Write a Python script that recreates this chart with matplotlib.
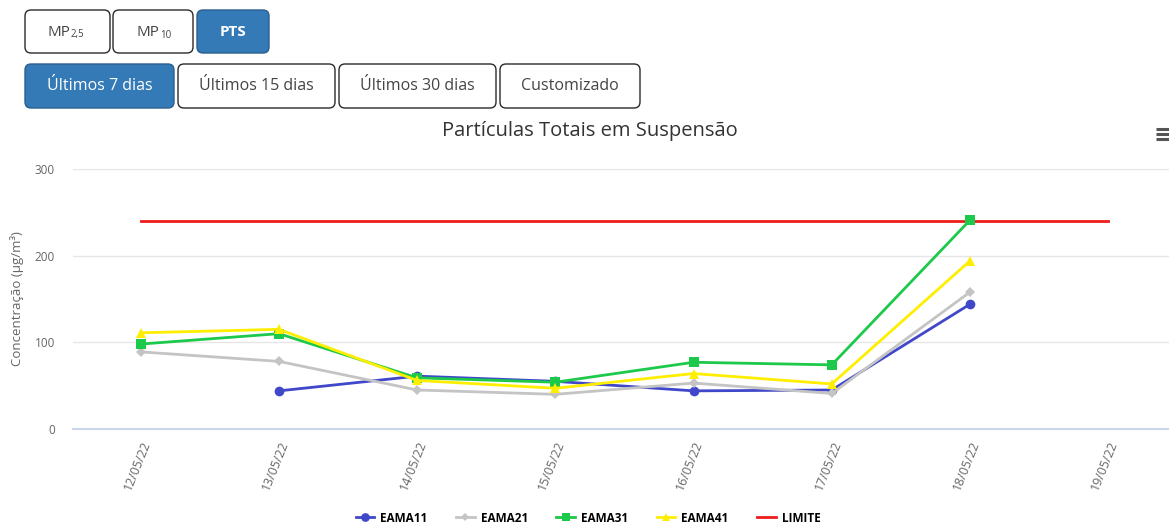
import numpy as np
import matplotlib.pyplot as plt
from matplotlib.patches import FancyBboxPatch
from matplotlib.lines import Line2D

# ---- dados ----
datas = ["12/05/22", "13/05/22", "14/05/22", "15/05/22",
         "16/05/22", "17/05/22", "18/05/22", "19/05/22"]
eama11 = [np.nan, 44, 61, 55, 44, 45, 144, np.nan]
eama21 = [89, 78, 45, 40, 53, 41, 158, np.nan]
eama31 = [98, 110, 59, 54, 77, 74, 241, np.nan]
eama41 = [111, 115, 56, 47, 64, 52, 194, np.nan]
limite = [240, 240, 240, 240, 240, 240, 240, 240]

series = [
    ("EAMA11", eama11, "#4047c9", "o", 7),
    ("EAMA21", eama21, "#c4c4c4", "D", 5),
    ("EAMA31", eama31, "#1dc94a", "s", 7),
    ("EAMA41", eama41, "#ffee00", "^", 7),
]

plt.rcParams["font.family"] = ["Open Sans", "DejaVu Sans"]

W, H = 1169, 527
fig = plt.figure(figsize=(W / 100, H / 100), dpi=100)

# camada de fundo em pixels (botões, ícone)
bg = fig.add_axes([0, 0, 1, 1])
bg.set_xlim(0, W)
bg.set_ylim(H, 0)
bg.axis("off")

AZUL = "#337ab7"


def botao(x0, x1, y0, y1, ativo):
    p = FancyBboxPatch((x0, y0), x1 - x0, y1 - y0,
                       boxstyle="round,pad=0,rounding_size=6",
                       facecolor=AZUL if ativo else "white",
                       edgecolor="#2a2a2a" if not ativo else "#2b5f8e",
                       linewidth=1.0)
    bg.add_patch(p)


botao(25, 110, 10, 53, False)
botao(113, 193, 10, 53, False)
botao(197, 269, 10, 53, True)
bg.text(70, 32, "MP", ha="right", va="center", fontsize=11, color="#444444")
bg.text(71, 35, "2,5", ha="left", va="center", fontsize=7, color="#444444")
bg.text(159, 32, "MP", ha="right", va="center", fontsize=11, color="#444444")
bg.text(160, 35, "10", ha="left", va="center", fontsize=7, color="#444444")
bg.text(233, 32, "PTS", ha="center", va="center", fontsize=11, color="white",
        fontweight="bold")

botoes2 = [(25, 174, "Últimos 7 dias", True), (178, 335, "Últimos 15 dias", False),
           (339, 496, "Últimos 30 dias", False), (500, 640, "Customizado", False)]
for x0, x1, txt, ativo in botoes2:
    botao(x0, x1, 64, 108, ativo)
    bg.text((x0 + x1) / 2, 86, txt, ha="center", va="center", fontsize=11.5,
            color="white" if ativo else "#444444")

# ícone de menu
for yy in (129, 134, 139):
    bg.plot([1156, 1169], [yy, yy], color="#555555", lw=2.2, solid_capstyle="butt")

bg.text(590, 131, "Partículas Totais em Suspensão", ha="center", va="center",
        fontsize=14.5, color="#333333")

# ---- gráfico ----
ax = fig.add_axes([73 / W, 98 / H, 1 - 73 / W, 260 / H])
x = np.arange(len(datas))

ax.plot(x, limite, color="#ee1c1c", lw=2, zorder=2)
for nome, vals, cor, mk, ms in series:
    ax.plot(x, vals, color=cor, lw=2, marker=mk, markersize=ms,
            markeredgewidth=0, zorder=3)

ax.set_xlim(-0.49, 7.44)
ax.set_ylim(0, 300)
ax.set_yticks([0, 100, 200, 300])
ax.set_xticks(x)
ax.set_xticklabels(datas, rotation=68, ha="right", va="top",
                   rotation_mode="anchor", fontsize=9, color="#666666")
ax.tick_params(axis="x", length=0, pad=7)
ax.tick_params(axis="y", length=0, pad=13, labelsize=8.5, labelcolor="#666666")
ax.grid(axis="y", color="#e6e6e6", lw=1)
for s in ("top", "right", "left"):
    ax.spines[s].set_visible(False)
ax.spines["bottom"].set_color("#ccd6eb")
ax.spines["bottom"].set_linewidth(1.5)
ax.set_axisbelow(True)
ax.set_ylabel("Concentração (µg/m³)", fontsize=9.5, color="#666666")
ax.yaxis.set_label_coords(-49 / (W - 73), 0.5)

handles = [Line2D([0], [0], color=c, lw=2, marker=m, markersize=ms * 0.9,
                  markeredgewidth=0) for _, _, c, m, ms in series]
handles.append(Line2D([0], [0], color="#ee1c1c", lw=2))
labels = [s[0] for s in series] + ["LIMITE"]
fig.legend(handles, labels, loc="center", bbox_to_anchor=(588 / W, 1 - 518 / H),
           ncol=5, frameon=False, handlelength=1.6,
           handletextpad=0.5, columnspacing=2.4,
           prop={"weight": "bold", "size": 8.5})

fig.savefig("out.png", dpi=100)
